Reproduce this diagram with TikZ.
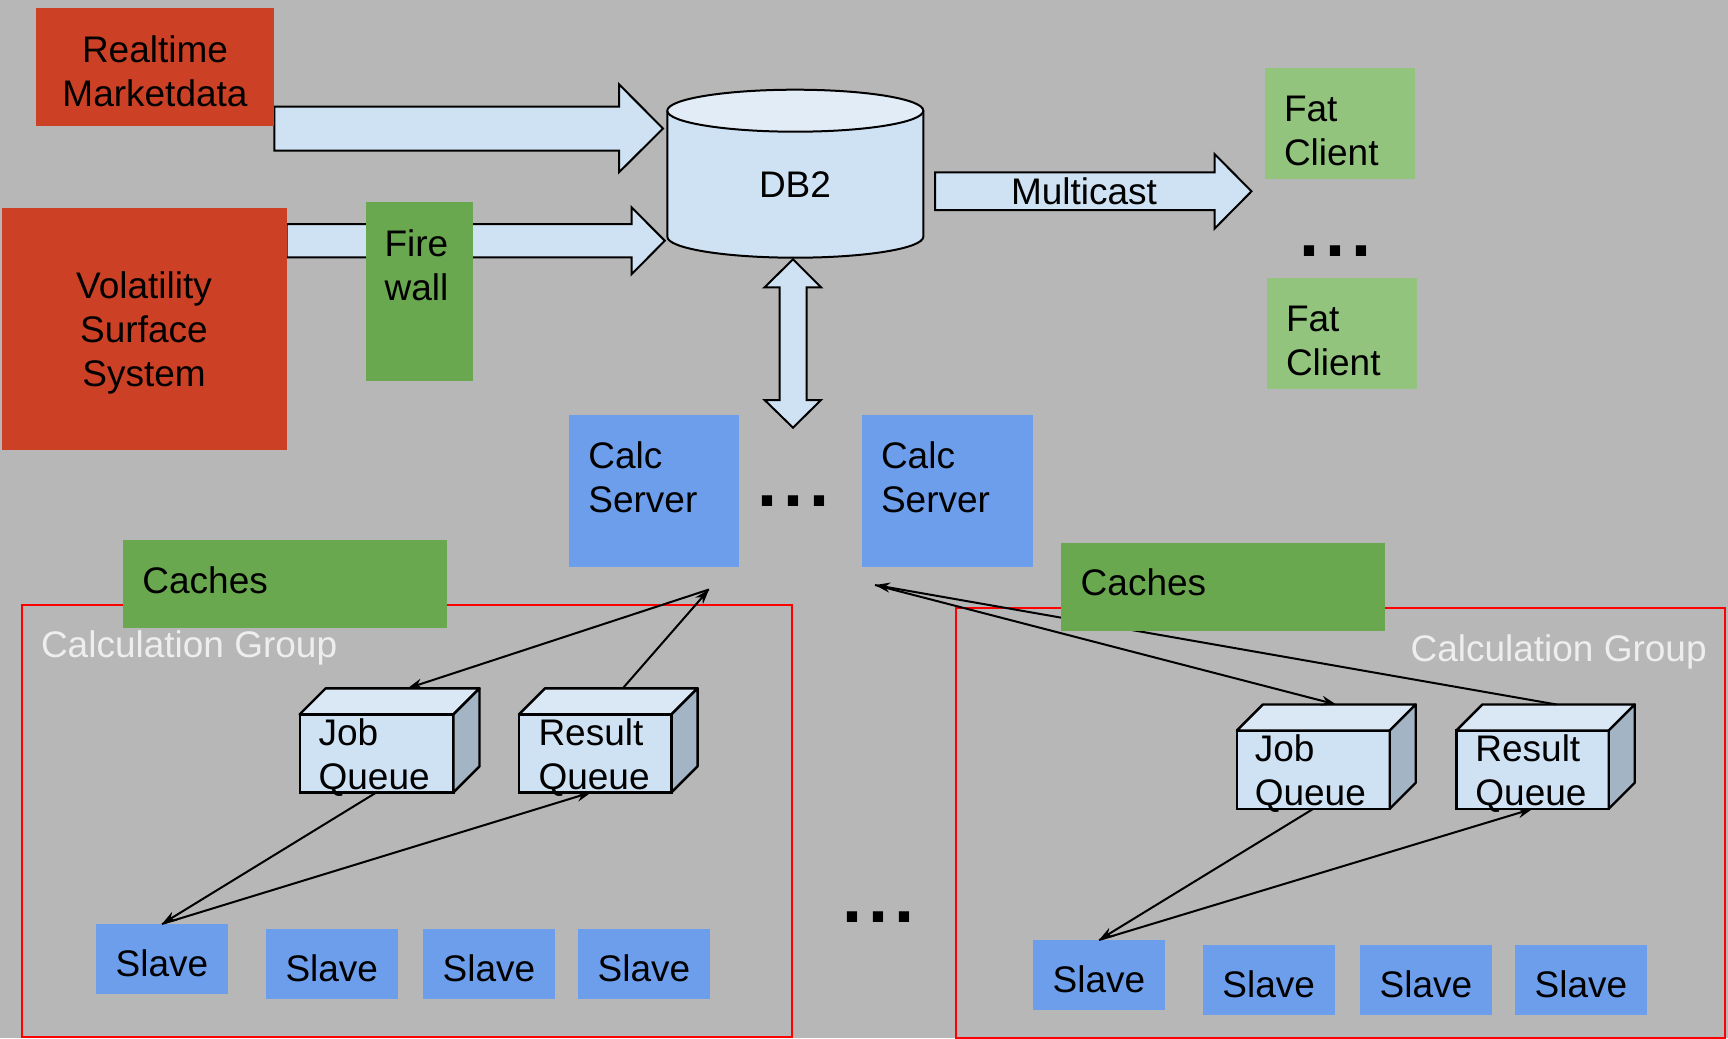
\documentclass[tikz,border=0pt]{standalone}
\usepackage{fontspec}
\setmainfont{Liberation Sans}
\usetikzlibrary{arrows.meta,calc}
\definecolor{bgc}{HTML}{B7B7B7}
\definecolor{redc}{HTML}{CC4125}
\definecolor{greend}{HTML}{6AA84F}
\definecolor{greenl}{HTML}{93C47D}
\definecolor{bluec}{HTML}{6D9EEB}
\definecolor{pale}{HTML}{CFE2F3}
\definecolor{paletop}{HTML}{E2ECF7}
\definecolor{cubetop}{HTML}{DAE7F4}
\definecolor{cubeside}{HTML}{A3B4C5}
\definecolor{grptxt}{HTML}{EEEEEE}
\definecolor{grpline}{HTML}{FF0000}
\newcommand\stL[1]{\vtop{\baselineskip=44pt\lineskiplimit=-100pt\lineskip=0pt\halign{##\hfil\cr#1\crcr}}}
\newcommand\stC[1]{\vtop{\baselineskip=44pt\lineskiplimit=-100pt\lineskip=0pt\halign{\hfil##\hfil\cr#1\crcr}}}
\newcommand\dotrow{{\fontsize{72}{72}\selectfont\bfseries .\kern6pt.\kern6pt.}}
\newcommand\qcube[5]{%
  \node[qfront,minimum width=#4pt,minimum height=#5pt] (#1) at (#2,#3) {};
  \draw[qtop] (#1.north west) -- ++(26,-26) -- ++(#4,0) -- (#1.north east) -- cycle;
  \draw[qside] (#1.north east) -- ++(26,-26) -- ++(0,#5) -- (#1.south east) -- cycle;}
\begin{document}
\begin{tikzpicture}[x=1pt,y=-1pt,
  every node/.style={inner sep=0pt,outer sep=0pt},
  font=\fontsize{37}{44}\selectfont,
  boxnw/.style={rectangle,anchor=north west,draw=none},
  lbl/.style={anchor=base west,text=black},
  lblc/.style={anchor=base,text=black},
  barrow/.style={fill=pale,draw=black,line width=2pt,line join=miter},
  conn/.style={draw=black,line width=2pt,-{Stealth[length=15pt,width=10pt]}},
  grp/.style={boxnw,draw=grpline,line width=2pt},
  qfront/.style={rectangle,anchor=north west,fill=pale,draw=black,line width=2.4pt},
  qtop/.style={fill=cubetop,draw=black,line width=2.4pt,line join=round},
  qside/.style={fill=cubeside,draw=black,line width=2.4pt,line join=round},
  slavebox/.style={boxnw,fill=bluec,minimum width=132pt,minimum height=69.7pt}
]
\useasboundingbox (0,0) rectangle (1728,1038);
\fill[bgc] (0,0) rectangle (1728,1038);

% calculation groups
\node[grp,minimum width=770.2pt,minimum height=431.9pt] (cg1) at (21.8,604.9) {};
\node[grp,minimum width=768.8pt,minimum height=430pt] (cg2) at (955.8,607.9) {};
\node[lbl,text=grptxt] (cg1t) at (41,657.3) {Calculation Group};
\node[anchor=base east,text=grptxt] (cg2t) at (1706.7,661.8) {Calculation Group};

% block arrows
\draw[barrow] (274.4,106.7) -- (619,106.7) -- (619,84.3) -- (663,128.5) -- (619,172.3) -- (619,150.7) -- (274.4,150.7) -- cycle;
\draw[barrow] (286.5,224) -- (631.5,224) -- (631.5,207.3) -- (664.8,240.7) -- (631.5,274.3) -- (631.5,257.3) -- (286.5,257.3) -- cycle;
\draw[barrow] (935,172.3) -- (1214.5,172.3) -- (1214.5,154) -- (1251.5,191.3) -- (1214.5,228.7) -- (1214.5,210) -- (935,210) -- cycle;
\draw[barrow] (793,259.3) -- (821,287.3) -- (806.5,287.3) -- (806.5,400) -- (821,400) -- (793,427.7) -- (764.6,400) -- (779.6,400) -- (779.6,287.3) -- (764.6,287.3) -- cycle;

% top boxes
\node[boxnw,fill=redc,minimum width=238.8pt,minimum height=117.7pt] (rt) at (35.6,8) {};
\node[boxnw,fill=redc,minimum width=284.8pt,minimum height=242pt] (vs) at (1.7,208) {};
\node[boxnw,fill=greend,minimum width=106.5pt,minimum height=179pt] (fw) at (366,202) {};

% DB2 cylinder
\fill[pale] (667.3,110.7) -- (667.3,236.7) arc[start angle=180,end angle=0,x radius=128,y radius=21] -- (923.3,110.7) -- cycle;
\draw[line width=2pt] (667.3,110.7) -- (667.3,236.7) arc[start angle=180,end angle=0,x radius=128,y radius=21] -- (923.3,110.7);
\draw[fill=paletop,line width=2pt] (795.3,110.7) ellipse[x radius=128,y radius=21];

% fat clients
\node[boxnw,fill=greenl,minimum width=150pt,minimum height=110.7pt] (fc1) at (1265,68) {};
\node[boxnw,fill=greenl,minimum width=150pt,minimum height=110.7pt] (fc2) at (1267,278) {};

% calc servers
\node[boxnw,fill=bluec,minimum width=170.4pt,minimum height=151.6pt] (cs1) at (569,415) {};
\node[boxnw,fill=bluec,minimum width=171pt,minimum height=151.6pt] (cs2) at (862,415) {};

% queues
\qcube{jq1}{299.7}{714.3}{153.8}{78}
\qcube{rq1}{519}{714.3}{152.6}{78}
\qcube{jq2}{1236.9}{730.5}{152.8}{78.3}
\qcube{rq2}{1456.4}{730.5}{152.3}{78.3}

% slaves
\node[slavebox] (s11) at (95.9,924) {};
\node[slavebox] (s12) at (265.8,928.8) {};
\node[slavebox] (s13) at (423,928.8) {};
\node[slavebox] (s14) at (578,928.8) {};
\node[slavebox] (s21) at (1033,940) {};
\node[slavebox] (s22) at (1202.7,945) {};
\node[slavebox] (s23) at (1360,945) {};
\node[slavebox] (s24) at (1515,945) {};

% connectors
\coordinate (p1) at (709,589.5);
\coordinate (p2) at (875,585);
\draw[conn] (p1) -- ($(jq1.north)+(31,-26)$);
\draw[conn] ($(rq1.north)+(27.5,-26)$) -- (p1);
\draw[conn] (jq1.south) -- (s11.north);
\draw[conn] (s11.north) -- ($(rq1.south)+(-4,0)$);
\draw[conn] (p2) -- ($(jq2.north)+(23,-26)$);
\draw[conn] ($(rq2.north)+(24,-26)$) -- (p2);
\draw[conn] (jq2.south) -- (s21.north);
\draw[conn] (s21.north) -- (rq2.south);

% caches
\node[boxnw,fill=greend,minimum width=324.2pt,minimum height=87.7pt] (ca1) at (122.8,540) {};
\node[boxnw,fill=greend,minimum width=323.7pt,minimum height=87.7pt] (ca2) at (1061,543) {};

% texts
\node[lblc] (rtt) at (155,62.3) {\stC{Realtime\cr Marketdata}};
\node[lblc] (vst) at (144,298) {\stC{Volatility\cr Surface\cr System}};
\node[lbl] (fwt) at (384.6,256) {\stL{Fire\cr wall}};
\node[lblc] (db) at (795,197.3) {DB2};
\node[lblc] (mct) at (1084,204) {Multicast};
\node[lbl] (fc1t) at (1284,121.7) {\stL{Fat\cr Client}};
\node[lbl] (fc2t) at (1286,331.7) {\stL{Fat\cr Client}};
\node[lbl] (cs1t) at (588.4,468) {\stL{Calc\cr Server}};
\node[lbl] (cs2t) at (881,468) {\stL{Calc\cr Server}};
\node[lbl] (ca1t) at (142.4,593.2) {Caches};
\node[lbl] (ca2t) at (1080.7,595.5) {Caches};
\node[lbl] (jq1t) at (318.6,745.5) {\stL{Job\cr Queue}};
\node[lbl] (rq1t) at (538.5,745.5) {\stL{Result\cr Queue}};
\node[lbl] (jq2t) at (1254.8,761.2) {\stL{Job\cr Queue}};
\node[lbl] (rq2t) at (1475.4,761.2) {\stL{Result\cr Queue}};
\foreach \s in {s11,s12,s13,s14,s21,s22,s23,s24}
  \node[lblc] (\s t) at ($(\s.north)+(0,52.8)$) {Slave};

% dots
\node[anchor=base west] (d1) at (1299,256) {\dotrow};
\node[anchor=base west] (d2) at (757.2,506.7) {\dotrow};
\node[anchor=base west] (d3) at (842.9,922.6) {\dotrow};
\end{tikzpicture}
\end{document}
